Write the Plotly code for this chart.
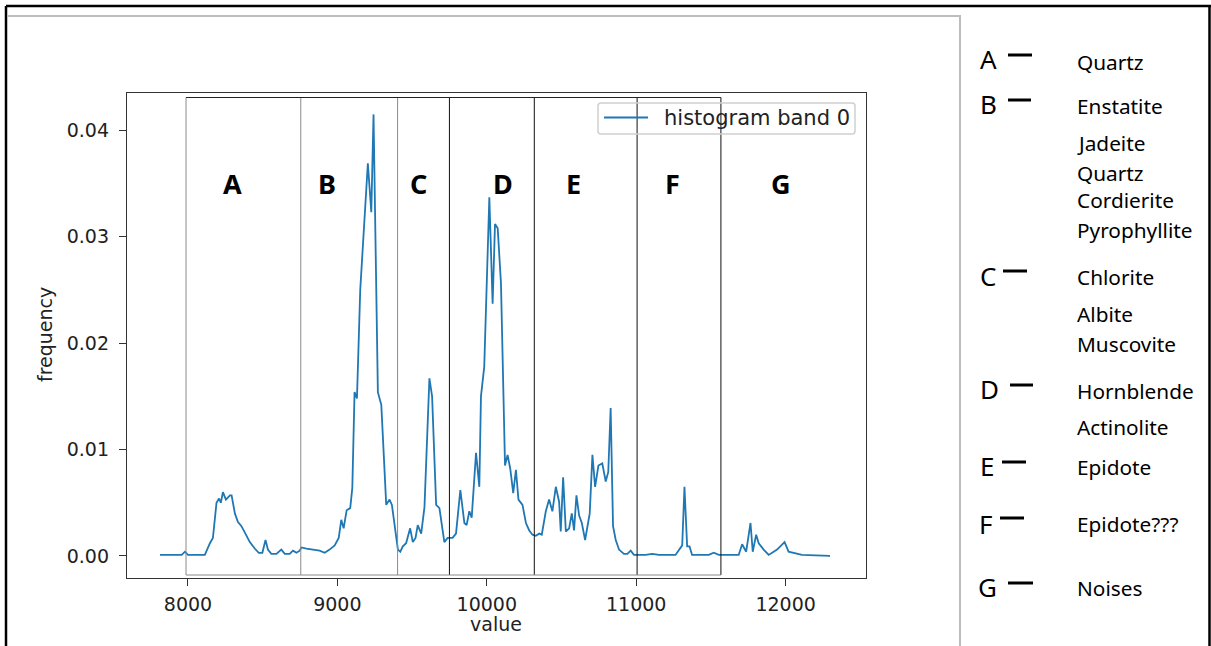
import plotly.graph_objects as go

# ---------------- data ----------------
value = [7813, 7900, 7958, 7980, 8000, 8060, 8113, 8147, 8167, 8191, 8208, 8220, 8234, 8254, 8281, 8292,
         8314, 8334, 8358, 8381, 8414, 8447, 8474, 8498, 8519, 8535, 8558, 8592, 8625, 8648, 8681, 8703,
         8726, 8748, 8759, 8793, 8836, 8881, 8915, 8948, 8982, 9009, 9026, 9042, 9062, 9086, 9100, 9115,
         9131, 9153, 9204, 9227, 9242, 9271, 9294, 9327, 9349, 9365, 9405, 9421, 9438, 9460, 9487, 9505,
         9523, 9538, 9561, 9583, 9616, 9634, 9661, 9683, 9716, 9738, 9771, 9794, 9823, 9850, 9865, 9883,
         9899, 9928, 9950, 9961, 9983, 10017, 10039, 10055, 10073, 10095, 10122, 10139, 10157, 10177, 10195,
         10212, 10239, 10262, 10284, 10306, 10328, 10351, 10368, 10395, 10417, 10439, 10462, 10484, 10495,
         10511, 10529, 10551, 10569, 10584, 10600, 10618, 10636, 10658, 10689, 10707, 10725, 10747, 10773,
         10796, 10813, 10829, 10845, 10863, 10885, 10918, 10941, 10963, 10985, 11063, 11107, 11152, 11263,
         11308, 11323, 11341, 11357, 11374, 11486, 11519, 11553, 11686, 11709, 11736, 11765, 11780, 11803,
         11820, 11853, 11887, 11943, 11958, 11993, 12020, 12109, 12297]
frequency = [0.0001, 0.0001, 0.0001, 0.0004, 0.0001, 0.0001, 0.0001, 0.0012, 0.0017, 0.0050, 0.0054, 0.0050,
             0.0060, 0.0053, 0.0057, 0.0057, 0.0040, 0.0032, 0.0028, 0.0022, 0.0013, 0.0007, 0.0003, 0.0003,
             0.0015, 0.0006, 0.0002, 0.0002, 0.0006, 0.0002, 0.0002, 0.0005, 0.0003, 0.0005, 0.0008, 0.0007,
             0.0006, 0.0005, 0.0003, 0.0006, 0.0010, 0.0017, 0.0034, 0.0026, 0.0043, 0.0045, 0.0064, 0.0154,
             0.0148, 0.0250, 0.0369, 0.0323, 0.0415, 0.0154, 0.0142, 0.0048, 0.0053, 0.0048, 0.0006, 0.0004,
             0.0009, 0.0012, 0.0026, 0.0013, 0.0017, 0.0029, 0.0021, 0.0046, 0.0167, 0.0150, 0.0048, 0.0045,
             0.0013, 0.0017, 0.0017, 0.0021, 0.0062, 0.0031, 0.0029, 0.0042, 0.0036, 0.0097, 0.0065, 0.0150,
             0.0178, 0.0337, 0.0237, 0.0312, 0.0308, 0.0256, 0.0085, 0.0095, 0.0082, 0.0059, 0.0081, 0.0053,
             0.0048, 0.0031, 0.0024, 0.0020, 0.0019, 0.0021, 0.0020, 0.0042, 0.0053, 0.0042, 0.0065, 0.0051,
             0.0023, 0.0074, 0.0023, 0.0026, 0.0040, 0.0024, 0.0057, 0.0038, 0.0031, 0.0015, 0.0040, 0.0095,
             0.0065, 0.0085, 0.0087, 0.0070, 0.0079, 0.0139, 0.0028, 0.0015, 0.0006, 0.0002, 0.0002, 0.0005,
             0.0001, 0.0001, 0.0002, 0.0001, 0.0001, 0.0010, 0.0065, 0.0009, 0.0009, 0.0001, 0.0001, 0.0003,
             0.0001, 0.0001, 0.0011, 0.0004, 0.0031, 0.0004, 0.0020, 0.0012, 0.0006, 0.0001, 0.0006, 0.0008,
             0.0013, 0.0004, 0.0001, 0.0000]

series_name = "histogram band 0"

region_edges = [7987, 8755, 9403, 9750, 10318, 11006, 11567]
region_labels = ["A", "B", "C", "D", "E", "F", "G"]
region_label_x = [8301, 8930, 9546, 10108, 10577, 11240, 11969]

x_ticks = [8000, 9000, 10000, 11000, 12000]
y_ticks = [0.00, 0.01, 0.02, 0.03, 0.04]

key_letters = ["A", "B", "C", "D", "E", "F", "G"]
key_minerals = [["Quartz"],
                ["Enstatite", "Jadeite", "Quartz", "Cordierite", "Pyrophyllite"],
                ["Chlorite", "Albite", "Muscovite"],
                ["Hornblende", "Actinolite"],
                ["Epidote"],
                ["Epidote???"],
                ["Noises"]]

# ---------------- layout helpers (pixel -> paper) ----------------
W, H = 1211, 646
L, R, T, B = 127, 866, 93, 578
LINE_COLOR = "#1f77b4"


def px(xp):
    return (xp - L) / (R - L)


def py(yp):
    return (B - yp) / (B - T)


fig = go.Figure()
fig.add_trace(go.Scatter(x=value, y=frequency, mode="lines", name=series_name,
                         line=dict(color=LINE_COLOR, width=1.8), showlegend=False))

shapes = []
# region boxes
box_top, box_bot = py(97.5), py(575)
for i, e in enumerate(region_edges):
    col = "#8a8a8a" if i < 3 else "#111111"
    shapes.append(dict(type="line", xref="x", yref="paper", x0=e, x1=e, y0=box_bot, y1=box_top,
                       line=dict(color=col, width=1)))
shapes.append(dict(type="line", xref="x", yref="paper", x0=region_edges[0], x1=region_edges[-1],
                   y0=box_top, y1=box_top, line=dict(color="#222222", width=1)))
shapes.append(dict(type="line", xref="x", yref="paper", x0=region_edges[0], x1=region_edges[-1],
                   y0=box_bot, y1=box_bot, line=dict(color="#8a8a8a", width=1)))

# outer frames
shapes.append(dict(type="line", xref="paper", yref="paper", x0=px(6), x1=px(1211), y0=py(6), y1=py(6),
                   line=dict(color="black", width=2.5)))
shapes.append(dict(type="line", xref="paper", yref="paper", x0=px(6), x1=px(6), y0=py(6), y1=py(650),
                   line=dict(color="black", width=2.5)))
shapes.append(dict(type="line", xref="paper", yref="paper", x0=px(1209.5), x1=px(1209.5), y0=py(6), y1=py(650),
                   line=dict(color="black", width=2.5)))
shapes.append(dict(type="line", xref="paper", yref="paper", x0=px(7), x1=px(961), y0=py(16), y1=py(16),
                   line=dict(color="#bdbdbd", width=2)))
shapes.append(dict(type="line", xref="paper", yref="paper", x0=px(960), x1=px(960), y0=py(16), y1=py(650),
                   line=dict(color="#bdbdbd", width=2)))

# legend (matplotlib-style rounded frame)
lx0, lx1, ly0, ly1, rr = 598, 855, 103, 134, 3
rx, ry = rr / (R - L), rr / (B - T)
X0, X1, Y0, Y1 = px(lx0), px(lx1), py(ly1), py(ly0)
legend_path = (f"M{X0 + rx},{Y0} L{X1 - rx},{Y0} Q{X1},{Y0} {X1},{Y0 + ry} L{X1},{Y1 - ry} "
               f"Q{X1},{Y1} {X1 - rx},{Y1} L{X0 + rx},{Y1} Q{X0},{Y1} {X0},{Y1 - ry} "
               f"L{X0},{Y0 + ry} Q{X0},{Y0} {X0 + rx},{Y0} Z")
shapes.append(dict(type="path", xref="paper", yref="paper", path=legend_path,
                   line=dict(color="#d0d0d0", width=1.5), fillcolor="rgba(255,255,255,0)"))
shapes.append(dict(type="line", xref="paper", yref="paper", x0=px(604), x1=px(648), y0=py(117.5), y1=py(117.5),
                   line=dict(color=LINE_COLOR, width=1.8)))

annotations = []
annotations.append(dict(x=px(662), y=py(118), xref="paper", yref="paper", text=series_name, showarrow=False,
                        xanchor="left", yanchor="middle",
                        font=dict(family="DejaVu Sans", size=21, color="#222222")))

for lab, xc in zip(region_labels, region_label_x):
    annotations.append(dict(x=xc, y=py(183), xref="x", yref="paper", text="<b>%s</b>" % lab,
                            showarrow=False, xanchor="center", yanchor="middle",
                            font=dict(family="Noto Sans", size=27, color="black")))

# right-hand key
letter_pos = [(988, 59), (988, 104), (988, 276), (989, 389), (987, 466), (986, 524), (987, 587)]
dash_pos = [(1008, 1032, 55), (1008, 1031, 100), (1003, 1027, 271), (1010, 1033, 385),
            (1002, 1026, 462), (1000, 1024, 518), (1008, 1033, 583)]
mineral_y = [[62], [106, 143, 173, 200, 230], [277, 314, 344], [391, 427], [467], [524], [588]]
for k, lab in enumerate(key_letters):
    lx, ly = letter_pos[k]
    annotations.append(dict(x=px(lx), y=py(ly), xref="paper", yref="paper", text=lab, showarrow=False,
                            xanchor="center", yanchor="middle",
                            font=dict(family="Noto Sans", size=26, color="black")))
    d0, d1, dy = dash_pos[k]
    shapes.append(dict(type="line", xref="paper", yref="paper", x0=px(d0), x1=px(d1), y0=py(dy), y1=py(dy),
                       line=dict(color="black", width=3)))
    for name, my in zip(key_minerals[k], mineral_y[k]):
        annotations.append(dict(x=px(1075), y=py(my), xref="paper", yref="paper", text=name, showarrow=False,
                                xanchor="left", yanchor="middle",
                                font=dict(family="Noto Sans", size=20.8, color="black")))

# axis titles
annotations.append(dict(x=px(45), y=py(335), xref="paper", yref="paper", text="frequency", showarrow=False,
                        textangle=-90, xanchor="center", yanchor="middle",
                        font=dict(family="DejaVu Sans", size=19, color="#222222")))
annotations.append(dict(x=px(496), y=py(624), xref="paper", yref="paper", text="value", showarrow=False,
                        xanchor="center", yanchor="middle",
                        font=dict(family="DejaVu Sans", size=19, color="#222222")))

fig.update_layout(
    width=W, height=H,
    margin=dict(l=L, r=W - R, t=T, b=H - B, autoexpand=False),
    paper_bgcolor="white", plot_bgcolor="white",
    showlegend=False,
    shapes=shapes, annotations=annotations,
    xaxis=dict(range=[7592, 12538], tickvals=x_ticks, tickformat="d", showgrid=False, zeroline=False,
               showline=True, mirror=True, linecolor="#333333", linewidth=1.3,
               ticks="outside", ticklen=7, tickwidth=1.3, tickcolor="#333333", ticklabelstandoff=2,
               tickfont=dict(family="DejaVu Sans", size=19, color="#222222")),
    yaxis=dict(range=[-0.00207, 0.04351], tickvals=y_ticks, tickformat=".2f", showgrid=False, zeroline=False,
               showline=True, mirror=True, linecolor="#333333", linewidth=1.3,
               ticks="outside", ticklen=7, tickwidth=1.3, tickcolor="#333333", ticklabelstandoff=6,
               tickfont=dict(family="DejaVu Sans", size=19, color="#222222")),
)

fig.write_html("out.html")
